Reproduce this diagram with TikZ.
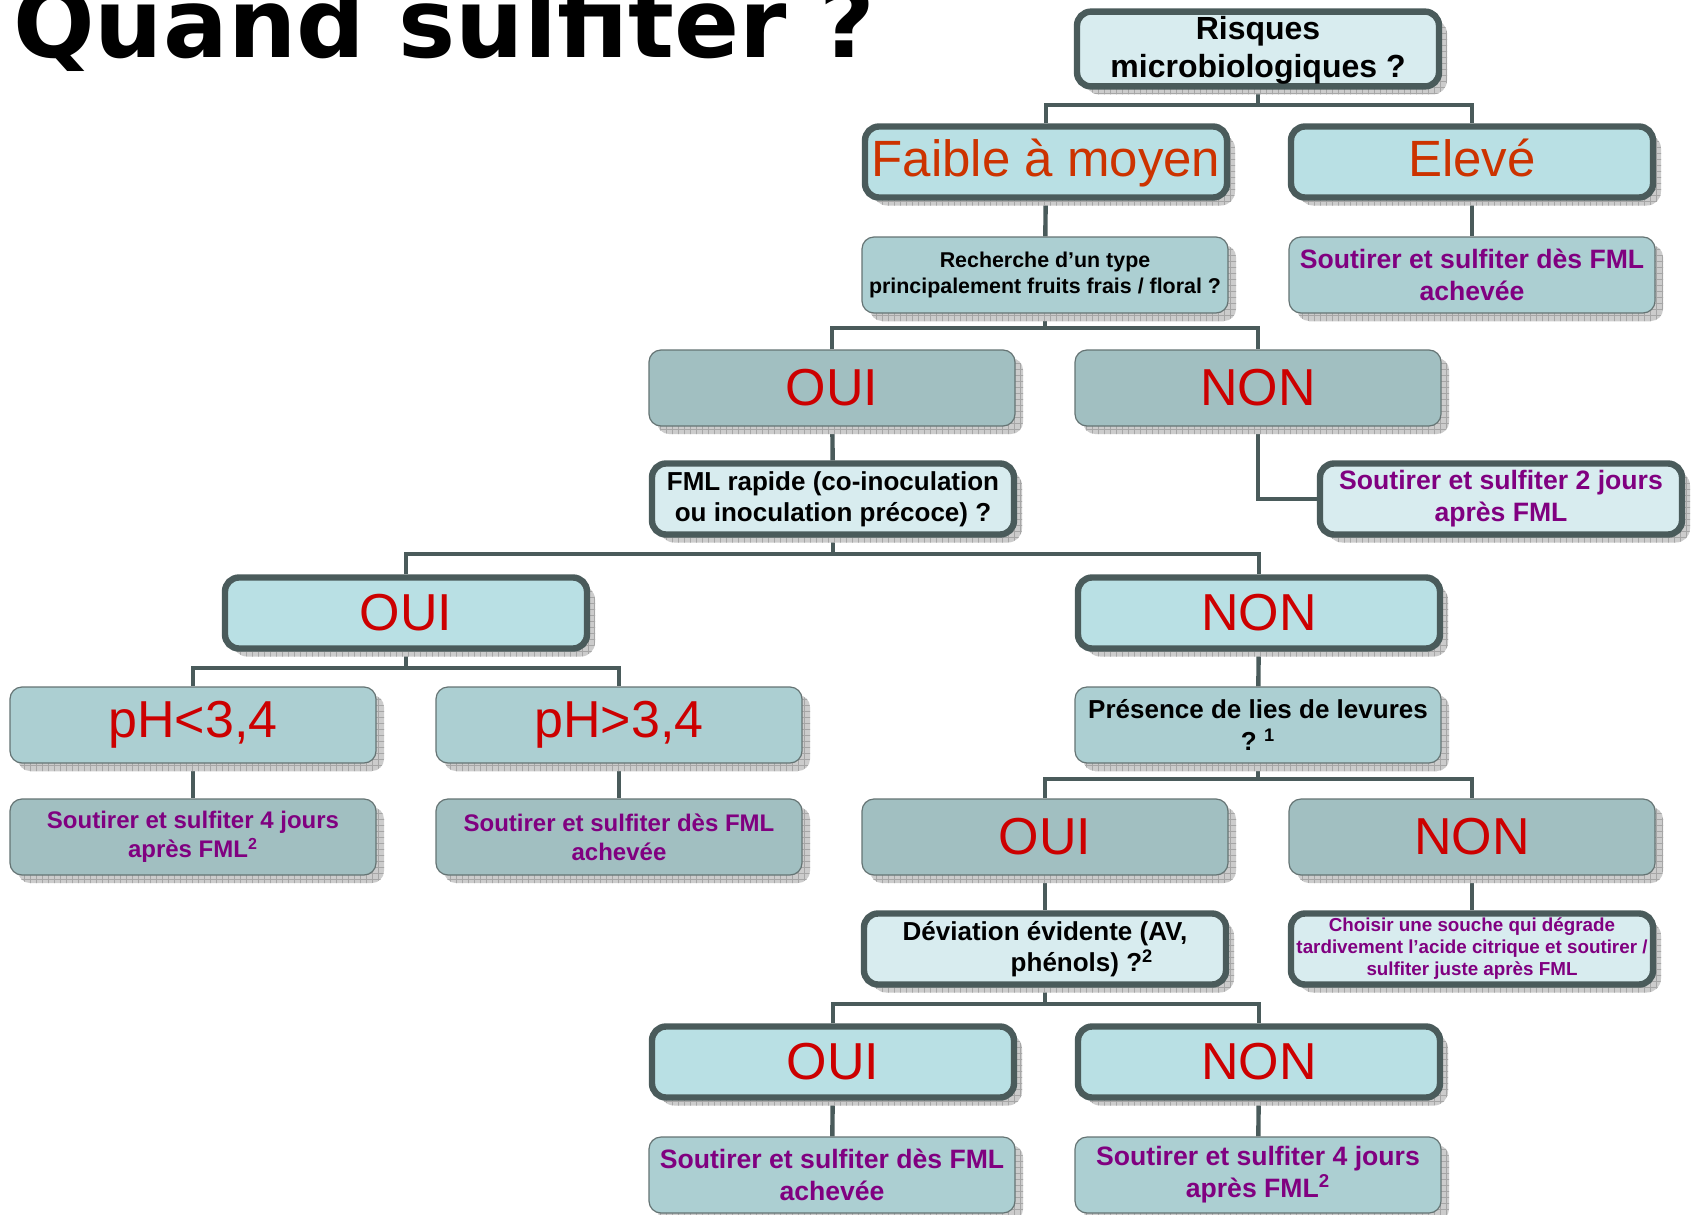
\documentclass[tikz,border=0pt]{standalone}
\usepackage{fontspec}
\setmainfont{Liberation Sans}
\newfontfamily\titlefont{DejaVu Sans}
\usetikzlibrary{shadows,patterns,backgrounds}
\definecolor{lineC}{RGB}{74,91,91}
\definecolor{qfill}{RGB}{216,236,239}
\definecolor{afill}{RGB}{185,224,228}
\definecolor{tfill}{RGB}{172,207,210}
\definecolor{ofill}{RGB}{161,191,193}
\definecolor{redT}{RGB}{204,0,0}
\definecolor{orT}{RGB}{204,51,0}
\definecolor{purT}{RGB}{128,0,128}
\tikzset{
  shad/.style={general shadow={shadow xshift=4pt,shadow yshift=-4pt,fill=black!20},
               general shadow={shadow xshift=4pt,shadow yshift=-4pt,pattern=grid,pattern color=black!35}},
  thickbox/.style={shad,draw=lineC,line width=3.2pt,rounded corners=7pt,minimum width=181pt,minimum height=35.5pt,inner sep=1pt,align=center},
  thinbox/.style={shad,draw=lineC!85,line width=0.6pt,rounded corners=6pt,minimum width=183pt,minimum height=38pt,inner sep=1pt,align=center},
  q/.style={thickbox,fill=qfill},
  a/.style={thickbox,fill=afill},
  t/.style={thinbox,fill=tfill},
  o/.style={thinbox,fill=ofill},
  big/.style={font=\fontsize{26}{30}\selectfont,text=redT},
  bigo/.style={font=\fontsize{25.5}{30}\selectfont,text=orT,text depth=4pt},
  qs/.style={font=\bfseries\fontsize{13}{15.7}\selectfont},
  ps/.style={font=\bfseries\fontsize{13.3}{16}\selectfont,text=purT},
  pss/.style={font=\bfseries\fontsize{12}{14.6}\selectfont,text=purT},
  conn/.style={draw=lineC,line width=2.2pt}
}
\begin{document}
\begin{tikzpicture}[x=0.5pt,y=-0.5pt]
\useasboundingbox (0,0) rectangle (1698,1215);
\node[anchor=base west,inner sep=0pt,font=\titlefont\bfseries\fontsize{48}{50}\selectfont] (title) at (13,57) {Quand sulfiter ?};

\node[q,font=\bfseries\fontsize{16}{19}\selectfont] (risk) at (1258,49) {\rule{0pt}{13pt}Risques\\microbiologiques ?};
\node[a,bigo] (faible) at (1046,162) {Faible à moyen};
\node[a,bigo] (eleve) at (1472,162) {Elevé};
\node[t,font=\bfseries\fontsize{10.7}{13}\selectfont] (rech) at (1045,275) {Recherche d’un type\\principalement fruits frais / floral ?};
\node[t,ps] (s1) at (1472,275) {Soutirer et sulfiter dès FML\\achevée};
\node[o,big] (oui3) at (832,388) {OUI};
\node[o,big] (non3) at (1258,388) {NON};
\node[q,qs] (fml) at (833,499) {FML rapide (co-inoculation\\ou inoculation précoce) ?};
\node[q,ps] (s2) at (1501,499) {Soutirer et sulfiter 2 jours\\après FML};
\node[a,big] (oui5) at (406,613) {OUI};
\node[a,big] (non5) at (1259,613) {NON};
\node[t,big] (phl) at (193,725) {pH<3,4};
\node[t,big] (phg) at (619,725) {pH>3,4};
\node[t,qs] (lies) at (1258,725) {Présence de lies de levures\\?~\textsuperscript{1}};
\node[o,pss] (s3) at (193,837) {Soutirer et sulfiter 4 jours\\après FML\textsuperscript{2}};
\node[o,pss] (s4) at (619,837) {Soutirer et sulfiter dès FML\\achevée};
\node[o,big] (oui7) at (1045,837) {OUI};
\node[o,big] (non7) at (1472,837) {NON};
\node[q,qs] (dev) at (1045,949) {Déviation évidente (AV,\\\hspace*{37pt}phénols) ?\textsuperscript{2}};
\node[q,font=\bfseries\fontsize{9.4}{11}\selectfont,text=purT] (s5) at (1472,949) {Choisir une souche qui dégrade\\tardivement l’acide citrique et soutirer /\\sulfiter juste après FML};
\node[a,big] (oui9) at (833,1062) {OUI};
\node[a,big] (non9) at (1259,1062) {NON};
\node[t,ps] (s6) at (832,1175) {Soutirer et sulfiter dès FML\\achevée};
\node[t,ps] (s7) at (1258,1175) {Soutirer et sulfiter 4 jours\\après FML\textsuperscript{2}};

\begin{scope}[on background layer]
\fill[white] (0,0) rectangle (1698,1215);
\coordinate (b1) at (1258,105);
\draw[conn] (risk.south) -- (b1);
\draw[conn] (faible.north) |- (b1) -| (eleve.north);
\draw[conn] (faible) -- (rech);
\draw[conn] (eleve) -- (s1);
\coordinate (b2) at (1045,328);
\draw[conn] (rech.south) -- (b2);
\draw[conn] (oui3.north) |- (b2) -| (non3.north);
\draw[conn] (oui3) -- (fml);
\draw[conn] (non3.south) |- (s2.west);
\coordinate (b3) at (833,554);
\draw[conn] (fml.south) -- (b3);
\draw[conn] (oui5.north) |- (b3) -| (non5.north);
\coordinate (b4) at (406,668);
\draw[conn] (oui5.south) -- (b4);
\draw[conn] (phl.north) |- (b4) -| (phg.north);
\draw[conn] (phl) -- (s3);
\draw[conn] (phg) -- (s4);
\draw[conn] (non5) -- (lies);
\coordinate (b5) at (1258,779);
\draw[conn] (lies.south) -- (b5);
\draw[conn] (oui7.north) |- (b5) -| (non7.north);
\draw[conn] (oui7) -- (dev);
\draw[conn] (non7) -- (s5);
\coordinate (b6) at (1045,1004);
\draw[conn] (dev.south) -- (b6);
\draw[conn] (oui9.north) |- (b6) -| (non9.north);
\draw[conn] (oui9) -- (s6);
\draw[conn] (non9) -- (s7);
\end{scope}
\end{tikzpicture}
\end{document}
